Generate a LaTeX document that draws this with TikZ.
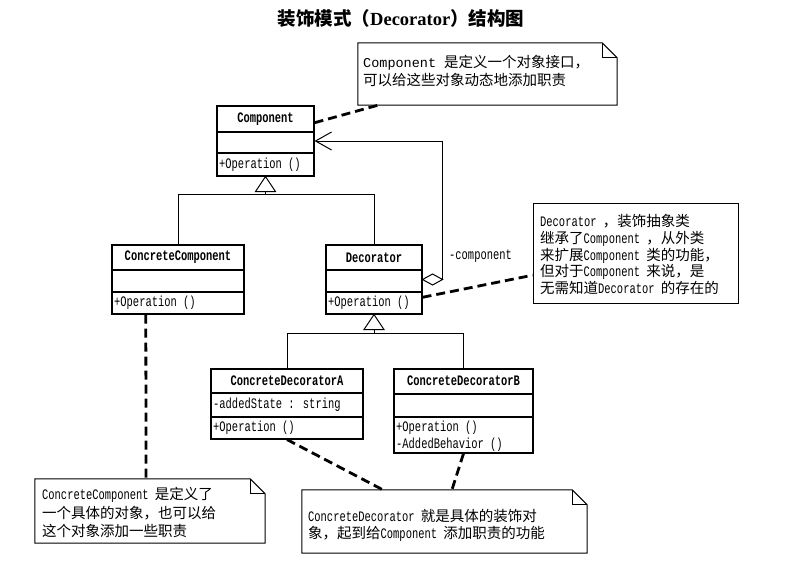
\documentclass[tikz,border=0pt]{standalone}
\usepackage{fontspec}
\usetikzlibrary{arrows.meta,calc}
\newfontfamily\cjk{Noto Sans CJK SC}
\newfontfamily\lat[FakeStretch=0.72]{Liberation Mono}
\newfontfamily\latw{Liberation Mono}
\newfontfamily\tnr{Liberation Serif}
\newcommand\zhs[1]{{\cjk\fontsize{14.5}{17.5}\selectfont #1}}
\newcommand\notefold[1]{%
  \draw[notebox] (#1.north west) -- ([xshift=-15pt]#1.north east) -- ([yshift=-15pt]#1.north east) -- (#1.south east) -- (#1.south west) -- cycle;
  \draw[notebox] ([xshift=-15pt]#1.north east) |- ([yshift=-15pt]#1.north east);}
\tikzset{
  cls/.style={draw, line width=1.1pt, rectangle, inner sep=0pt},
  clsname/.style={font=\lat\bfseries\fontsize{14.5}{16}\selectfont, inner sep=0pt},
  member/.style={font=\lat\fontsize{14.5}{16}\selectfont, inner sep=0pt, anchor=west},
  divider/.style={line width=1.1pt},
  gen/.style={line width=1pt},
  notebox/.style={line width=1pt},
  noteframe/.style={inner sep=0pt},
  notetext/.style={align=left, anchor=west, inner sep=0pt},
  notelink/.style={line width=2.8pt, dash pattern=on 9pt off 5pt},
}
\begin{document}
\begin{tikzpicture}[x=1pt,y=-1pt]
\useasboundingbox[fill=white] (0,0) rectangle (798,568);

% title
\node[inner sep=0pt] (title) at (401,18) {{\cjk\bfseries\fontsize{18.5}{20}\selectfont 装饰模式（}{\tnr\bfseries\fontsize{18.5}{20}\selectfont Decorator}{\cjk\bfseries\fontsize{18.5}{20}\selectfont ）结构图}};

% classes
\node[cls, minimum width=97, minimum height=70] (comp) at (265.5,141) {};
\draw[divider] (217,132) -- (314,132);
\draw[divider] (217,153) -- (314,153);
\node[clsname] (compname) at (265.5,119) {Component};
\node[member] (compop) at (219,164.5) {+Operation ()};

\node[cls, minimum width=132, minimum height=69] (ccomp) at (178,279.5) {};
\draw[divider] (112,270) -- (244,270);
\draw[divider] (112,292) -- (244,292);
\node[clsname] (ccompname) at (178,257.5) {ConcreteComponent};
\node[member] (ccompop) at (114,303) {+Operation ()};

\node[cls, minimum width=96, minimum height=69] (dec) at (374,279.5) {};
\draw[divider] (326,270) -- (422,270);
\draw[divider] (326,292) -- (422,292);
\node[clsname] (decname) at (374,257.5) {Decorator};
\node[member] (decop) at (328,303) {+Operation ()};

\node[cls, minimum width=152, minimum height=70] (cda) at (287,404) {};
\draw[divider] (211,393) -- (363,393);
\draw[divider] (211,417) -- (363,417);
\node[clsname] (cdaname) at (287,381) {ConcreteDecoratorA};
\node[member] (cdaattr) at (213,405) {-addedState : string};
\node[member] (cdaop) at (213,428) {+Operation ()};

\node[cls, minimum width=139, minimum height=84] (cdb) at (463.5,411) {};
\draw[divider] (394,394) -- (533,394);
\draw[divider] (394,417) -- (533,417);
\node[clsname] (cdbname) at (463.5,381) {ConcreteDecoratorB};
\node[member] (cdbop) at (396,428) {+Operation ()};
\node[member] (cdbop2) at (396,445) {-AddedBehavior ()};

% generalization Component <- ConcreteComponent, Decorator
\draw[gen, fill=white] (comp.south) -- ++(-10,15) -- ++(20,0) -- cycle;
\coordinate (g1) at ([yshift=-15pt]comp.south);
\draw[gen] (g1) -- ++(0,3) coordinate (j1);
\draw[gen] (ccomp.north) |- (j1) -| (dec.north);

% generalization Decorator <- A, B
\draw[gen, fill=white] (dec.south) -- ++(-10,15) -- ++(20,0) -- cycle;
\coordinate (g2) at ([yshift=-15pt]dec.south);
\draw[gen] (g2) -- ++(0,4) coordinate (j2);
\draw[gen] (cda.north) |- (j2) -| (cdb.north);

% aggregation Decorator -> Component
\draw[gen, fill=white] (dec.east) -- ++(10,-5.5) -- ++(10,5.5) coordinate (dR) -- ++(-10,5.5) -- cycle;
\draw[gen, -{Straight Barb[length=16pt,width=18pt,line width=1pt]}] (dR) -- (dR |- comp.east) -- (comp.east);
\node[member] (role) at (449,256) {-component};

% notes
\node[noteframe, minimum width=259, minimum height=62] (n1) at (487.5,74) {};
\notefold{n1}
\node[notetext, font=\latw\fontsize{13.5}{18}\selectfont] (t1) at (363,71) {Component \zhs{是定义一个对象接口，}\\\zhs{可以给这些对象动态地添加职责}};

\node[noteframe, draw, line width=1pt, minimum width=205, minimum height=100] (n2) at (635.5,253) {};
\node[notetext, font=\lat\fontsize{14.5}{16.8}\selectfont] (t2) at (540,254.5) {Decorator \zhs{，装饰抽象类}\\\zhs{继承了}Component \zhs{，从外类}\\\zhs{来扩展}Component \zhs{类的功能，}\\\zhs{但对于}Component \zhs{来说，是}\\\zhs{无需知道}Decorator \zhs{的存在的}};

\node[noteframe, minimum width=230, minimum height=64] (n3) at (150,511) {};
\notefold{n3}
\node[notetext, font=\lat\fontsize{14.5}{18.5}\selectfont] (t3) at (42,512.5) {ConcreteComponent \zhs{是定义了}\\\zhs{一个具体的对象，也可以给}\\\zhs{这个对象添加一些职责}};

\node[noteframe, minimum width=285, minimum height=63] (n4) at (444.5,521.5) {};
\notefold{n4}
\node[notetext, font=\lat\fontsize{14.5}{17.5}\selectfont] (t4) at (308,525.5) {ConcreteDecorator \zhs{就是具体的装饰对}\\\zhs{象，起到给}Component \zhs{添加职责的功能}};

% note links
\draw[notelink] ($(comp.north east)!0.243!(comp.south east)$) -- ($(n1.south west)!0.078!(n1.south east)$);
\draw[notelink] ($(dec.north east)!0.754!(dec.south east)$) -- ($(n2.north west)!0.72!(n2.south west)$);
\draw[notelink] ($(ccomp.south west)!0.258!(ccomp.south east)$) -- ($(n3.north west)!0.483!(n3.north east)$);
\draw[notelink] (cda.south) -- ($(n4.north west)!0.284!(n4.north east)$);
\draw[notelink] (cdb.south) -- ($(n4.north west)!0.526!(n4.north east)$);
\end{tikzpicture}
\end{document}
